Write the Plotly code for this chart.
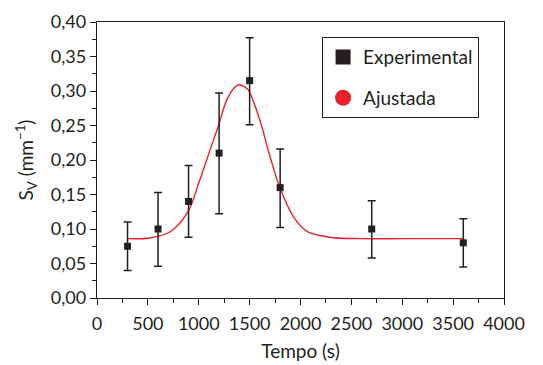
import plotly.graph_objects as go

# Experimental data
exp_x = [300, 600, 900, 1200, 1500, 1800, 2700, 3600]
exp_y = [0.075, 0.100, 0.140, 0.210, 0.315, 0.160, 0.100, 0.080]
err_plus = [0.035, 0.053, 0.052, 0.087, 0.062, 0.056, 0.041, 0.035]
err_minus = [0.035, 0.054, 0.052, 0.088, 0.064, 0.058, 0.042, 0.035]

# Fitted curve
fit_x = [300, 520, 720, 890, 1010, 1140, 1190, 1270, 1340, 1400, 1460, 1490,
         1600, 1700, 1800, 1930, 2060, 2290, 2600, 3000, 3600]
fit_y = [0.086, 0.087, 0.096, 0.124, 0.171, 0.227, 0.248, 0.285, 0.303, 0.309,
         0.305, 0.301, 0.258, 0.205, 0.159, 0.118, 0.097, 0.088, 0.086, 0.086, 0.086]

x_ticks = [0, 500, 1000, 1500, 2000, 2500, 3000, 3500, 4000]
x_ticktext = ["0", "500", "1000", "1500", "2000", "2500", "3000", "3500", "4000"]
y_ticks = [0.00, 0.05, 0.10, 0.15, 0.20, 0.25, 0.30, 0.35, 0.40]
y_ticktext = ["0,00", "0,05", "0,10", "0,15", "0,20", "0,25", "0,30", "0,35", "0,40"]

BLACK = "#231f20"
RED = "#e8202a"
FONT = "Lato"

fig = go.Figure()

fig.add_trace(go.Scatter(
    x=fit_x, y=fit_y, mode="lines", line=dict(color=RED, width=1.4, shape="spline"),
    showlegend=False, hoverinfo="skip"))

fig.add_trace(go.Scatter(
    x=exp_x, y=exp_y, mode="markers", name="Experimental", showlegend=False,
    marker=dict(symbol="square", size=7, color=BLACK),
    error_y=dict(type="data", array=err_plus, arrayminus=err_minus, color=BLACK,
                 thickness=1.5, width=4)))

# legend-only entries
fig.add_trace(go.Scatter(
    x=[None], y=[None], mode="markers", name="Experimental",
    marker=dict(symbol="square", size=15, color=BLACK), legendgroup="a"))
fig.add_trace(go.Scatter(
    x=[None], y=[None], mode="markers", name="Ajustada",
    marker=dict(symbol="circle", size=16, color=RED), legendgroup="b"))

axis_common = dict(
    showline=True, linecolor=BLACK, linewidth=1.3, mirror=True,
    ticks="outside", ticklen=6, tickwidth=1.3, tickcolor=BLACK,
    showgrid=False, zeroline=False, automargin=False,
    tickfont=dict(family=FONT, size=18, color=BLACK),
)

fig.update_layout(
    width=543, height=365,
    margin=dict(l=89, r=47, t=14, b=75),
    paper_bgcolor="white", plot_bgcolor="white",
    font=dict(family=FONT, color=BLACK),
    xaxis=dict(range=[0, 4000], tickvals=x_ticks, ticktext=x_ticktext,
               ticklabelstandoff=3,
               minor=dict(ticks="outside", ticklen=4, tickwidth=1.3, tickcolor=BLACK, dtick=250),
               title=dict(text="Tempo (s)", font=dict(family=FONT, size=19, color=BLACK), standoff=11),
               **axis_common),
    yaxis=dict(range=[0, 0.40], tickvals=y_ticks, ticktext=y_ticktext,
               minor=dict(ticks="outside", ticklen=4, tickwidth=1.3, tickcolor=BLACK, dtick=0.025),
               title=dict(text="S<sub>V</sub> (mm<sup>−1</sup>)", font=dict(family=FONT, size=19, color=BLACK), standoff=12),
               **axis_common),
    legend=dict(x=0.553, y=0.945, xanchor="left", yanchor="top",
                bordercolor=BLACK, borderwidth=1, bgcolor="white",
                font=dict(family=FONT, size=19, color=BLACK),
                tracegroupgap=13, itemsizing="trace"),
)

fig.write_html("out.html")
